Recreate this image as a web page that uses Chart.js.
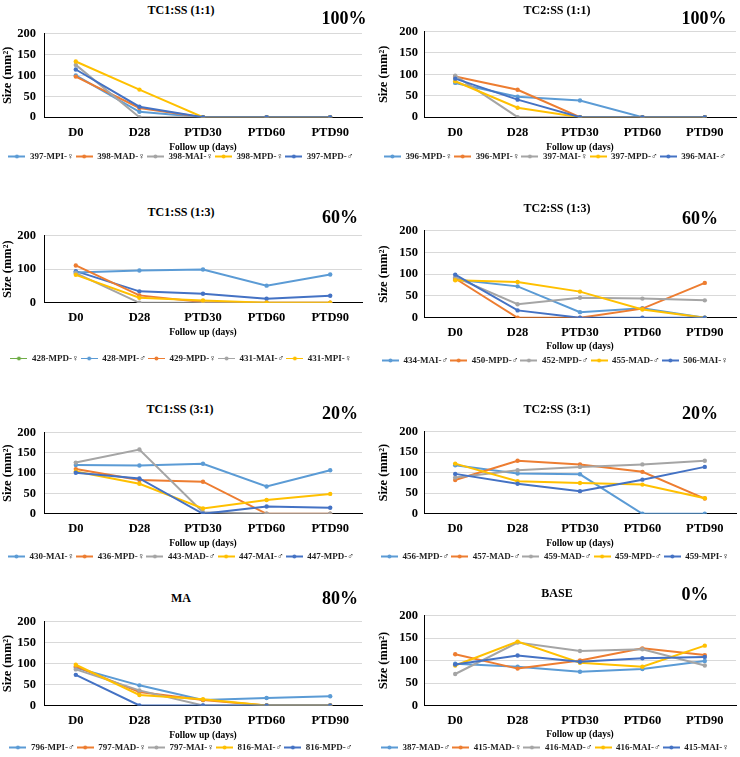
<!DOCTYPE html>
<html><head><meta charset="utf-8">
<script src="https://cdn.jsdelivr.net/npm/chart.js@4.4.0/dist/chart.umd.min.js"></script>
<style>
html,body{margin:0;padding:0;background:#fff;}
body{width:740px;height:757px;position:relative;overflow:hidden;font-family:'Liberation Serif','DejaVu Serif',serif;}
canvas{position:absolute;}
.t{position:absolute;transform:translate(-50%,-50%);font-weight:bold;white-space:nowrap;color:#000;line-height:1;}
</style></head><body>
<script>
// ---------- DATA ----------
const categories = ['D0', 'D28', 'PTD30', 'PTD60', 'PTD90'];
const yTickValues = [0, 50, 100, 150, 200];
const panelTitles = ['TC1:SS (1:1)', 'TC2:SS (1:1)', 'TC1:SS (1:3)', 'TC2:SS (1:3)', 'TC1:SS (3:1)', 'TC2:SS (3:1)', 'MA', 'BASE'];
const panelPercents = ['100%', '100%', '60%', '60%', '20%', '20%', '80%', '0%'];
const xAxisTitle = 'Follow up (days)';
const yAxisTitle = 'Size (mm²)';

const tc1_11_names = ['397-MPI-♀', '398-MAD-♀', '398-MAI-♀', '398-MPD-♀', '397-MPD-♂'];
const tc1_11_values = [[100, 13, 0, 0, 0], [97, 22, 0, 0, 0], [125, 0, 0, 0, 0], [133, 66, 0, 0, 0], [114, 25, 0, 0, 0]];

const tc2_11_names = ['396-MPD-♀', '396-MPI-♀', '397-MAI-♀', '397-MPD-♂', '396-MAI-♂'];
const tc2_11_values = [[80, 48, 39, 0, 0], [95, 64, 0, 0, 0], [97, 0, 0, 0, 0], [84, 22, 0, 0, 0], [90, 41, 0, 0, 0]];

const tc1_13_names = ['428-MPD-♀', '428-MPI-♂', '429-MPD-♀', '431-MAI-♂', '431-MPI-♀'];
const tc1_13_values = [[94, 34, 27, 12, 21], [90, 96, 99, 51, 84], [111, 22, 2, 0, 0], [88, 0, 0, 0, 0], [83, 15, 7, 0, 0]];

const tc2_13_names = ['434-MAI-♂', '450-MPD-♂', '452-MPD-♂', '455-MAD-♂', '506-MAI-♀'];
const tc2_13_values = [[88, 72, 13, 22, 0], [90, 0, 0, 21, 80], [93, 31, 46, 44, 40], [86, 82, 60, 19, 0], [99, 17, 0, 0, 0]];

const tc1_31_names = ['430-MAI-♀', '436-MPD-♀', '443-MAD-♂', '447-MAI-♂', '447-MPD-♂'];
const tc1_31_values = [[120, 119, 123, 67, 107], [110, 83, 79, 0, 0], [126, 158, 4, 0, 0], [104, 74, 13, 34, 49], [101, 87, 0, 18, 15]];

const tc2_31_names = ['456-MPD-♂', '457-MAD-♂', '459-MAD-♂', '459-MPD-♂', '459-MPI-♀'];
const tc2_31_values = [[118, 98, 96, 0, 0], [82, 129, 120, 102, 37], [88, 106, 114, 120, 129], [122, 79, 75, 71, 38], [97, 73, 55, 83, 114]];

const ma_names = ['796-MPI-♂', '797-MAD-♀', '797-MAI-♀', '816-MAI-♂', '816-MPD-♂'];
const ma_values = [[90, 48, 13, 18, 22], [93, 32, 13, 0, 0], [86, 36, 0, 0, 0], [97, 25, 15, 0, 0], [73, 0, 0, 0, 0]];

const base_names = ['387-MAD-♂', '415-MAD-♀', '416-MAD-♂', '416-MAI-♂', '415-MAI-♀'];
const base_values = [[93, 86, 75, 81, 99], [114, 82, 100, 127, 112], [70, 140, 121, 125, 89], [89, 142, 95, 86, 133], [91, 111, 97, 105, 108]];

// ---------- STYLES / LAYOUT ----------
const defaultColors = ['#5B9BD5', '#ED7D31', '#A5A5A5', '#FFC000', '#4472C4'];
const p3LineColors = ['#4472C4', '#5B9BD5', '#ED7D31', '#A5A5A5', '#FFC000'];
const p3LegendColors = ['#70AD47', '#5B9BD5', '#ED7D31', '#A5A5A5', '#FFC000'];

const panels = [
  {names: tc1_11_names, values: tc1_11_values},
  {names: tc2_11_names, values: tc2_11_values},
  {names: tc1_13_names, values: tc1_13_values, lineColors: p3LineColors, legendColors: p3LegendColors, thinLegend: true},
  {names: tc2_13_names, values: tc2_13_values},
  {names: tc1_31_names, values: tc1_31_values},
  {names: tc2_31_names, values: tc2_31_values},
  {names: ma_names, values: ma_values},
  {names: base_names, values: base_values},
];

const layouts = [
  {x: 0,   top: 27.7,  bottom: 116.7, xl: 132,   fl: 147,   lg: 156, tx: 181, ty: 10,    px: 344, py: 18},
  {x: 370, top: 27.7,  bottom: 116.7, xl: 132,   fl: 147,   lg: 156, tx: 557, ty: 10,    px: 704, py: 18},
  {x: 0,   top: 230,   bottom: 302.3, xl: 317,   fl: 332,   lg: 358, tx: 181, ty: 212,   px: 340, py: 217},
  {x: 370, top: 227.3, bottom: 317.3, xl: 332,   fl: 346.5, lg: 360, tx: 557, ty: 208,   px: 700, py: 218},
  {x: 0,   top: 426.7, bottom: 513.3, xl: 528.3, fl: 543.3, lg: 556, tx: 180, ty: 409.3, px: 340, py: 413.3},
  {x: 370, top: 427.7, bottom: 513.3, xl: 528.3, fl: 543.3, lg: 556, tx: 557, ty: 409.3, px: 700, py: 413.3},
  {x: 0,   top: 615.7, bottom: 705,   xl: 720,   fl: 735,   lg: 747, tx: 181, ty: 598.3, px: 340, py: 598.3},
  {x: 370, top: 611.7, bottom: 705,   xl: 720,   fl: 734.3, lg: 747, tx: 557, ty: 592.7, px: 695, py: 594},
];

const FONT = "'Liberation Serif', 'DejaVu Serif', serif";
const PAD_TOP = 10;
const LEG_FONT = 9, LEG_PAD = 2;
const SYM_W = 17;
const FOLLOW_FONT = 9.5;

function makeSymbol(color, lw) {
  const c = document.createElement('canvas');
  c.width = SYM_W; c.height = 9;
  const g = c.getContext('2d');
  g.strokeStyle = color; g.lineWidth = lw;
  g.beginPath(); g.moveTo(0, 4.5); g.lineTo(SYM_W, 4.5); g.stroke();
  g.fillStyle = color;
  g.beginPath(); g.arc(SYM_W / 2, 4.5, 2, 0, Math.PI * 2); g.fill();
  return c;
}

function addText(txt, x, y, size) {
  const d = document.createElement('div');
  d.className = 't';
  d.textContent = txt;
  d.style.left = x + 'px'; d.style.top = y + 'px'; d.style.fontSize = size + 'px';
  document.body.appendChild(d);
}

panels.forEach((p, idx) => {
  const L = layouts[idx];
  const leftCol = L.x === 0;
  const padL = leftCol ? 0 : 4;
  const padR = leftCol ? 8 : 4;
  const yW = leftCol ? 44 : 50;
  const canvasTop = L.top - PAD_TOP;
  const legendTop = L.lg - LEG_PAD - LEG_FONT / 2;
  const legendH = LEG_FONT + LEG_PAD + 10;
  const hx = legendTop - L.bottom;
  const canvasH = Math.ceil(legendTop + legendH - canvasTop);
  const followLH = FOLLOW_FONT * 1.2;
  const followPadB = legendTop - L.fl - followLH / 2;
  const tickPad = L.xl - L.bottom - 7.5;

  const cv = document.createElement('canvas');
  cv.width = 370; cv.height = canvasH;
  cv.style.left = L.x + 'px'; cv.style.top = canvasTop + 'px';
  cv.style.width = '370px'; cv.style.height = canvasH + 'px';
  document.body.appendChild(cv);

  const lineColors = p.lineColors || defaultColors;
  const legendColors = p.legendColors || lineColors;
  const symbols = legendColors.map(c => makeSymbol(c, p.thinLegend ? 1 : 2));
  const n = p.names.length;

  new Chart(cv, {
    type: 'line',
    data: {
      labels: categories,
      datasets: p.names.map((name, i) => ({
        label: name,
        data: p.values[i],
        borderColor: lineColors[i],
        backgroundColor: lineColors[i],
        pointBackgroundColor: lineColors[i],
        pointBorderColor: lineColors[i],
        borderWidth: 2,
        pointRadius: 2.2,
        pointBorderWidth: 0,
        tension: 0,
        fill: false,
        order: n - i,
      })),
    },
    options: {
      responsive: false,
      animation: false,
      devicePixelRatio: 1,
      events: [],
      layout: {padding: {top: PAD_TOP, left: padL, right: padR, bottom: 0}},
      plugins: {
        title: {display: false},
        tooltip: {enabled: false},
        legend: {
          display: true,
          position: 'bottom',
          labels: {
            usePointStyle: true,
            pointStyleWidth: SYM_W,
            padding: LEG_PAD,
            color: '#1f1f1f',
            font: {family: FONT, size: LEG_FONT, weight: 'bold'},
            generateLabels: chart => chart.data.datasets.map((ds, i) => ({
              text: ds.label,
              pointStyle: symbols[i],
              fillStyle: legendColors[i],
              strokeStyle: legendColors[i],
              lineWidth: 0,
              hidden: false,
              datasetIndex: i,
              fontColor: '#1f1f1f',
            })),
          },
        },
      },
      scales: {
        x: {
          type: 'category',
          offset: true,
          grid: {display: false, drawTicks: false},
          border: {display: true, color: '#000', width: 1},
          ticks: {color: '#000', padding: tickPad, font: {family: FONT, size: 12.5, weight: 'bold'}, maxRotation: 0, autoSkip: false},
          title: {display: true, text: xAxisTitle, color: '#000', font: {family: FONT, size: FOLLOW_FONT, weight: 'bold'}, padding: {top: 0, bottom: followPadB}},
          afterFit: s => { s.height = hx; },
        },
        y: {
          min: 0, max: 200,
          afterBuildTicks: s => { s.ticks = yTickValues.map(v => ({value: v})); },
          grid: {color: '#D9D9D9', drawTicks: false, lineWidth: 1},
          border: {display: true, color: '#000', width: 1},
          ticks: {color: '#000', padding: leftCol ? 8 : 6, font: {family: FONT, size: 12.5, weight: 'bold'}},
          title: {display: true, text: yAxisTitle, color: '#000', font: {family: FONT, size: 12.5, weight: 'bold'}, padding: {top: leftCol ? 0 : 2.5, bottom: 0}},
          afterFit: s => { s.width = yW; },
        },
      },
    },
  });

  addText(panelTitles[idx], L.tx, L.ty, 12);
  addText(panelPercents[idx], L.px, L.py, 18);
});
</script>
</body></html>
